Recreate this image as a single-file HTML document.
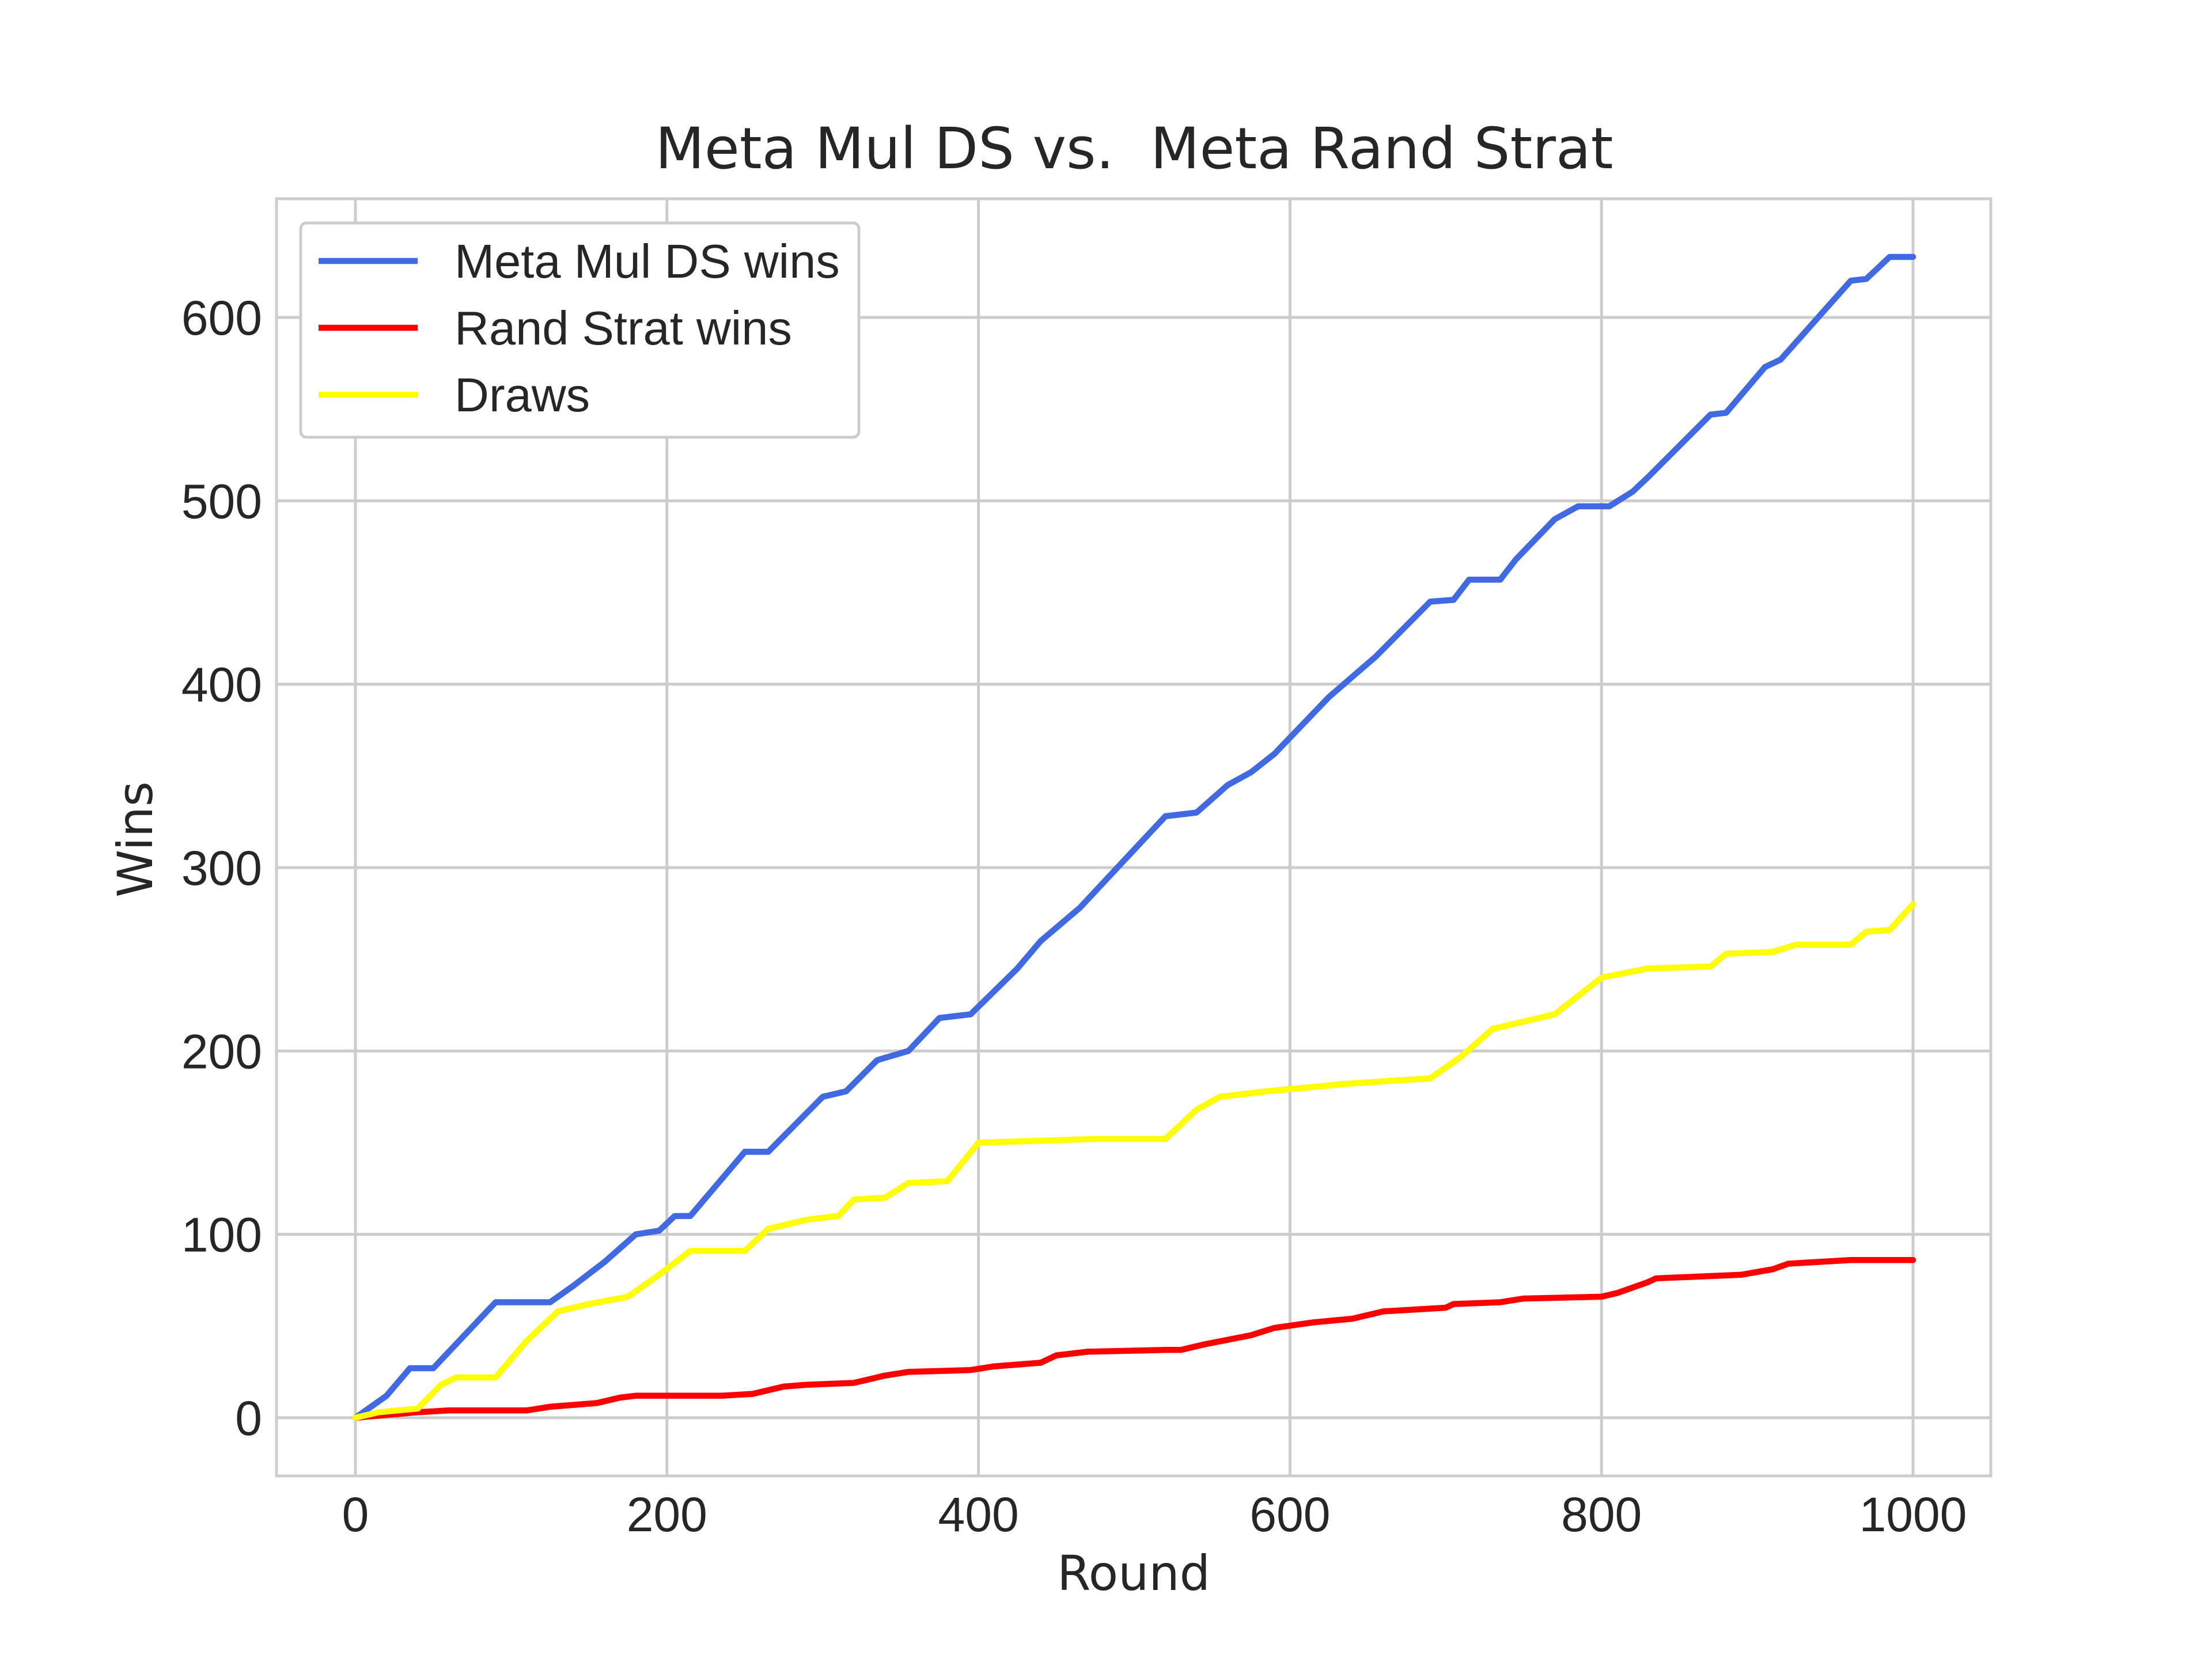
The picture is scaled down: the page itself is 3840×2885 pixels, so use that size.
<!DOCTYPE html>
<html><head><meta charset="utf-8"><style>body{margin:0;background:#fff}</style></head>
<body>
<svg id="chart" width="3840" height="2880" xmlns="http://www.w3.org/2000/svg">
<rect width="3840" height="2880" fill="#fff"/>
<g id="grid"></g>
<rect x="480" y="345" width="2976" height="2217" fill="none" stroke="#cccccc" stroke-width="5"/>
<g id="series"></g>
<g id="ticks" font-family="Liberation Sans, sans-serif" font-size="84" fill="#262626"></g>
<text x="1969" y="292" text-anchor="middle" font-family="DejaVu Sans, sans-serif" font-size="99" fill="#262626" xml:space="preserve">Meta Mul DS vs.  Meta Rand Strat</text>
<text x="1968" y="2760" text-anchor="middle" font-family="DejaVu Sans, sans-serif" font-size="84" fill="#262626">Round</text>
<text x="0" y="0" transform="translate(264,1457) rotate(-90)" text-anchor="middle" font-family="DejaVu Sans, sans-serif" font-size="84" fill="#262626">Wins</text>
<g>
<rect x="522" y="387" width="969" height="372" rx="10" fill="#fff" stroke="#cccccc" stroke-width="5"/>
<g id="legend-items" font-family="Liberation Sans, sans-serif" font-size="83" fill="#262626"></g>
</g>
</svg>
<script>
const xTicks=[0,200,400,600,800,1000];
const yTicks=[0,100,200,300,400,500,600];
const seriesNames=["Meta Mul DS wins","Rand Strat wins","Draws"];
const seriesColors=["#4169e1","#ff0000","#ffff00"];
const blueX=[0,10,20,35,50,90,125,140,160,180,195,205,215,250,265,300,315,335,355,375,395,425,440,465,520,540,560,575,590,625,655,690,705,715,735,745,770,785,805,820,830,870,880,905,915,960,970,985,1000];
const blueY=[0,6,12,27,27,63,63,72,85,100,102,110,110,145,145,175,178,195,200,218,220,245,260,278,328,330,345,352,362,393,415,445,446,457,457,468,490,497,497,505,513,547,548,573,577,620,621,633,633];
const redX=[0,40,60,110,125,140,155,170,180,235,255,265,275,290,320,340,355,395,410,440,450,470,520,530,545,575,590,615,640,660,700,705,735,750,800,810,830,835,890,910,920,940,960,1000];
const redY=[0,3,4,4,6,7,8,11,12,12,13,15,17,18,19,23,25,26,28,30,34,36,37,37,40,45,49,52,54,58,60,62,63,65,66,68,74,76,78,81,84,85,86,86];
const drawX=[0,15,40,55,65,90,110,130,150,175,195,215,250,265,290,310,320,340,355,380,400,475,520,540,555,585,610,635,670,690,710,730,745,770,800,830,870,880,910,925,960,970,985,1000];
const drawY=[0,3,5,18,22,22,42,58,62,66,78,91,91,103,108,110,119,120,128,129,150,152,152,168,175,178,180,182,184,185,197,212,215,220,240,245,246,253,254,258,258,265,266,280];
const NS="http://www.w3.org/2000/svg";
const sx=v=>617+(v-0)*(3321-617)/1000;
const sy=v=>2461-v*(2461-551)/600;
function mk(t,a,p){const e=document.createElementNS(NS,t);for(const k in a)e.setAttribute(k,a[k]);p.appendChild(e);return e;}
const grid=document.getElementById('grid'),ticks=document.getElementById('ticks');
xTicks.forEach(v=>{
 const l=mk('line',{x1:sx(v),x2:sx(v),y1:345,y2:2562,stroke:'#cccccc','stroke-width':5},grid);
 
 
 const t=mk('text',{x:sx(v),y:2658,'text-anchor':'middle'},ticks);t.textContent=v;
 
 
});
yTicks.forEach(v=>{
 const l=mk('line',{x1:480,x2:3456,y1:sy(v),y2:sy(v),stroke:'#cccccc','stroke-width':5},grid);
 
 
 const t=mk('text',{x:455,y:sy(v)+30,'text-anchor':'end'},ticks);t.textContent=v;
 
 
});
const ser=document.getElementById('series');
const data=[[blueX,blueY],[redX,redY],[drawX,drawY]];
const snames=['meta-mul-ds-line','rand-strat-line','draws-line'];
data.forEach((d,i)=>{
 const pts=d[0].map((x,j)=>sx(x)+','+sy(d[1][j])).join(' ');
 const p=mk('polyline',{points:pts,fill:'none',stroke:seriesColors[i],'stroke-width':10.5,'stroke-linejoin':'round','stroke-linecap':'round'},ser);
 
 
});
const lg=document.getElementById('legend-items');
seriesNames.forEach((n,i)=>{
 const y=453+i*116;
 const l=mk('line',{x1:553,x2:725,y1:y,y2:y,stroke:seriesColors[i],'stroke-width':10.5},lg);
 
 
 const t=mk('text',{x:789,y:y+29},lg);t.textContent=n;
 
 
});
</script>
</body></html>
